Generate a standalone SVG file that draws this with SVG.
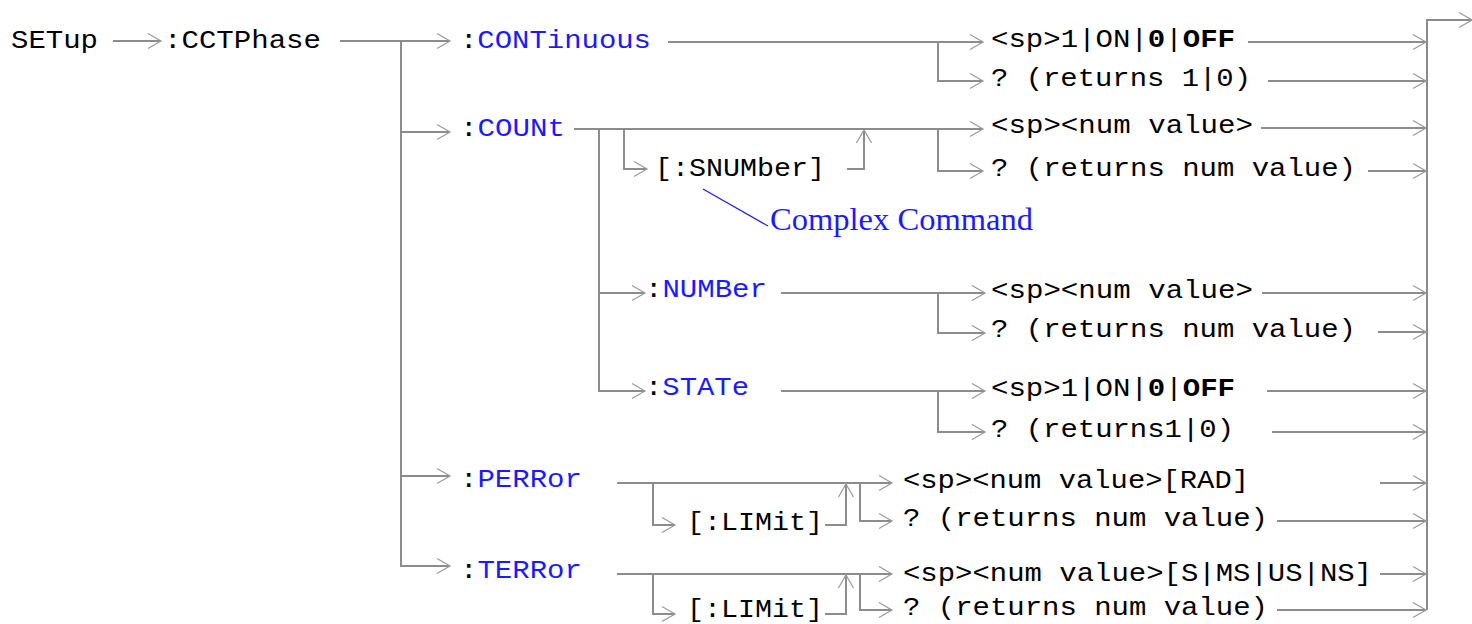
<svg xmlns="http://www.w3.org/2000/svg" width="1472" height="624" viewBox="0 0 1472 624">
<style>
.m{font-family:"Liberation Mono","Courier New",monospace;font-size:26px;fill:#000}
.b{fill:#1a1aff}
.w{font-weight:bold}
.s{font-family:"Liberation Serif","Times New Roman",serif;font-size:31px;fill:#1a1aff}
.ln{fill:none;stroke:#8c8c8c;stroke-width:2}
.ar{fill:none;stroke:#8c8c8c;stroke-width:2;marker-end:url(#ah)}
.cl{fill:none;stroke:#1a1aff;stroke-width:1.2}
</style>
<defs>
<marker id="ah" markerUnits="userSpaceOnUse" markerWidth="16" markerHeight="16" refX="14" refY="8" orient="auto" overflow="visible">
<path d="M1,0.5 L14,8 L1,15.5" fill="none" stroke="#999" stroke-width="1.2"/>
</marker>
</defs>
<rect width="1472" height="624" fill="#fff"/>
<g id="connectors">
<path class="ar" d="M113,41 H161"/>
<path class="ar" d="M340,41 H450"/>
<path class="ar" d="M401,41 V566 H450"/>
<path class="ar" d="M401,132 H450"/>
<path class="ar" d="M401,476 H450"/>
<path class="ar" d="M668,42 H983"/>
<path class="ar" d="M938,42 V81 H983"/>
<path class="ar" d="M1248,42 H1426"/>
<path class="ar" d="M1268,81 H1426"/>
<path class="ar" d="M574,129 H983"/>
<path class="ar" d="M599,129 V391 H645"/>
<path class="ar" d="M599,293 H645"/>
<path class="ar" d="M624,129 V169 H647"/>
<path class="ar" d="M847,169 H864 V130"/>
<path class="ar" d="M938,129 V171 H983"/>
<path class="ar" d="M1261,128 H1426"/>
<path class="ar" d="M1368,171 H1426"/>
<path class="ar" d="M781,293 H985"/>
<path class="ar" d="M938,293 V333 H985"/>
<path class="ar" d="M1262,293 H1426"/>
<path class="ar" d="M1378,332 H1426"/>
<path class="ar" d="M781,391 H985"/>
<path class="ar" d="M938,391 V432 H985"/>
<path class="ar" d="M1267,391 H1426"/>
<path class="ar" d="M1272,432 H1426"/>
<path class="ar" d="M617,483 H892"/>
<path class="ar" d="M653,483 V525 H675"/>
<path class="ar" d="M825,525 H846 V484"/>
<path class="ar" d="M860,483 V521 H892"/>
<path class="ar" d="M1380,483 H1426"/>
<path class="ar" d="M1277,521 H1426"/>
<path class="ar" d="M617,574 H892"/>
<path class="ar" d="M653,574 V614 H675"/>
<path class="ar" d="M825,614 H846 V575"/>
<path class="ar" d="M860,574 V610 H892"/>
<path class="ar" d="M1380,574 H1426"/>
<path class="ar" d="M1277,610 H1426"/>
<path class="ar" d="M1427,610 V20 H1472"/>
<path class="cl" d="M703,189 L768,226"/>
</g>
<g id="setup"><text class="m" x="11" y="48" textLength="87" lengthAdjust="spacingAndGlyphs">SETup</text></g>
<g id="cctphase"><text class="m" x="164" y="48" textLength="157" lengthAdjust="spacingAndGlyphs">:CCTPhase</text></g>
<g id="continuous"><text class="m" x="460" y="48" textLength="191" lengthAdjust="spacingAndGlyphs">:<tspan class="b">CONTinuous</tspan></text></g>
<g id="count"><text class="m" x="460" y="136" textLength="105" lengthAdjust="spacingAndGlyphs">:<tspan class="b">COUNt</tspan></text></g>
<g id="perror"><text class="m" x="460" y="487" textLength="122" lengthAdjust="spacingAndGlyphs">:<tspan class="b">PERRor</tspan></text></g>
<g id="terror"><text class="m" x="460" y="578" textLength="122" lengthAdjust="spacingAndGlyphs">:<tspan class="b">TERRor</tspan></text></g>
<g id="snumber"><text class="m" x="655" y="176" textLength="170" lengthAdjust="spacingAndGlyphs">[:SNUMber]</text></g>
<g id="complex"><text class="s" x="770" y="230" textLength="263" lengthAdjust="spacingAndGlyphs">Complex Command</text></g>
<g id="number"><text class="m" x="645" y="297" textLength="122" lengthAdjust="spacingAndGlyphs">:<tspan class="b">NUMBer</tspan></text></g>
<g id="state"><text class="m" x="645" y="395" textLength="104" lengthAdjust="spacingAndGlyphs">:<tspan class="b">STATe</tspan></text></g>
<g id="perror-limit"><text class="m" x="687" y="530" textLength="136" lengthAdjust="spacingAndGlyphs">[:LIMit]</text></g>
<g id="terror-limit"><text class="m" x="687" y="617" textLength="136" lengthAdjust="spacingAndGlyphs">[:LIMit]</text></g>
<g id="cont-set"><text class="m" x="991" y="47" textLength="244" lengthAdjust="spacingAndGlyphs">&lt;sp&gt;1|ON|<tspan class="w">0</tspan>|<tspan class="w">OFF</tspan></text></g>
<g id="cont-query"><text class="m" x="991" y="86" textLength="260" lengthAdjust="spacingAndGlyphs">? (returns 1|0)</text></g>
<g id="count-set"><text class="m" x="991" y="133" textLength="262" lengthAdjust="spacingAndGlyphs">&lt;sp&gt;&lt;num value&gt;</text></g>
<g id="count-query"><text class="m" x="991" y="176" textLength="365" lengthAdjust="spacingAndGlyphs">? (returns num value)</text></g>
<g id="number-set"><text class="m" x="991" y="298" textLength="262" lengthAdjust="spacingAndGlyphs">&lt;sp&gt;&lt;num value&gt;</text></g>
<g id="number-query"><text class="m" x="991" y="337" textLength="365" lengthAdjust="spacingAndGlyphs">? (returns num value)</text></g>
<g id="state-set"><text class="m" x="991" y="396" textLength="244" lengthAdjust="spacingAndGlyphs">&lt;sp&gt;1|ON|<tspan class="w">0</tspan>|<tspan class="w">OFF</tspan></text></g>
<g id="state-query"><text class="m" x="991" y="437" textLength="243" lengthAdjust="spacingAndGlyphs">? (returns1|0)</text></g>
<g id="perror-set"><text class="m" x="903" y="488" textLength="346" lengthAdjust="spacingAndGlyphs">&lt;sp&gt;&lt;num value&gt;[RAD]</text></g>
<g id="perror-query"><text class="m" x="903" y="526" textLength="365" lengthAdjust="spacingAndGlyphs">? (returns num value)</text></g>
<g id="terror-set"><text class="m" x="903" y="581" textLength="469" lengthAdjust="spacingAndGlyphs">&lt;sp&gt;&lt;num value&gt;[S|MS|US|NS]</text></g>
<g id="terror-query"><text class="m" x="903" y="615" textLength="365" lengthAdjust="spacingAndGlyphs">? (returns num value)</text></g>
</svg>
